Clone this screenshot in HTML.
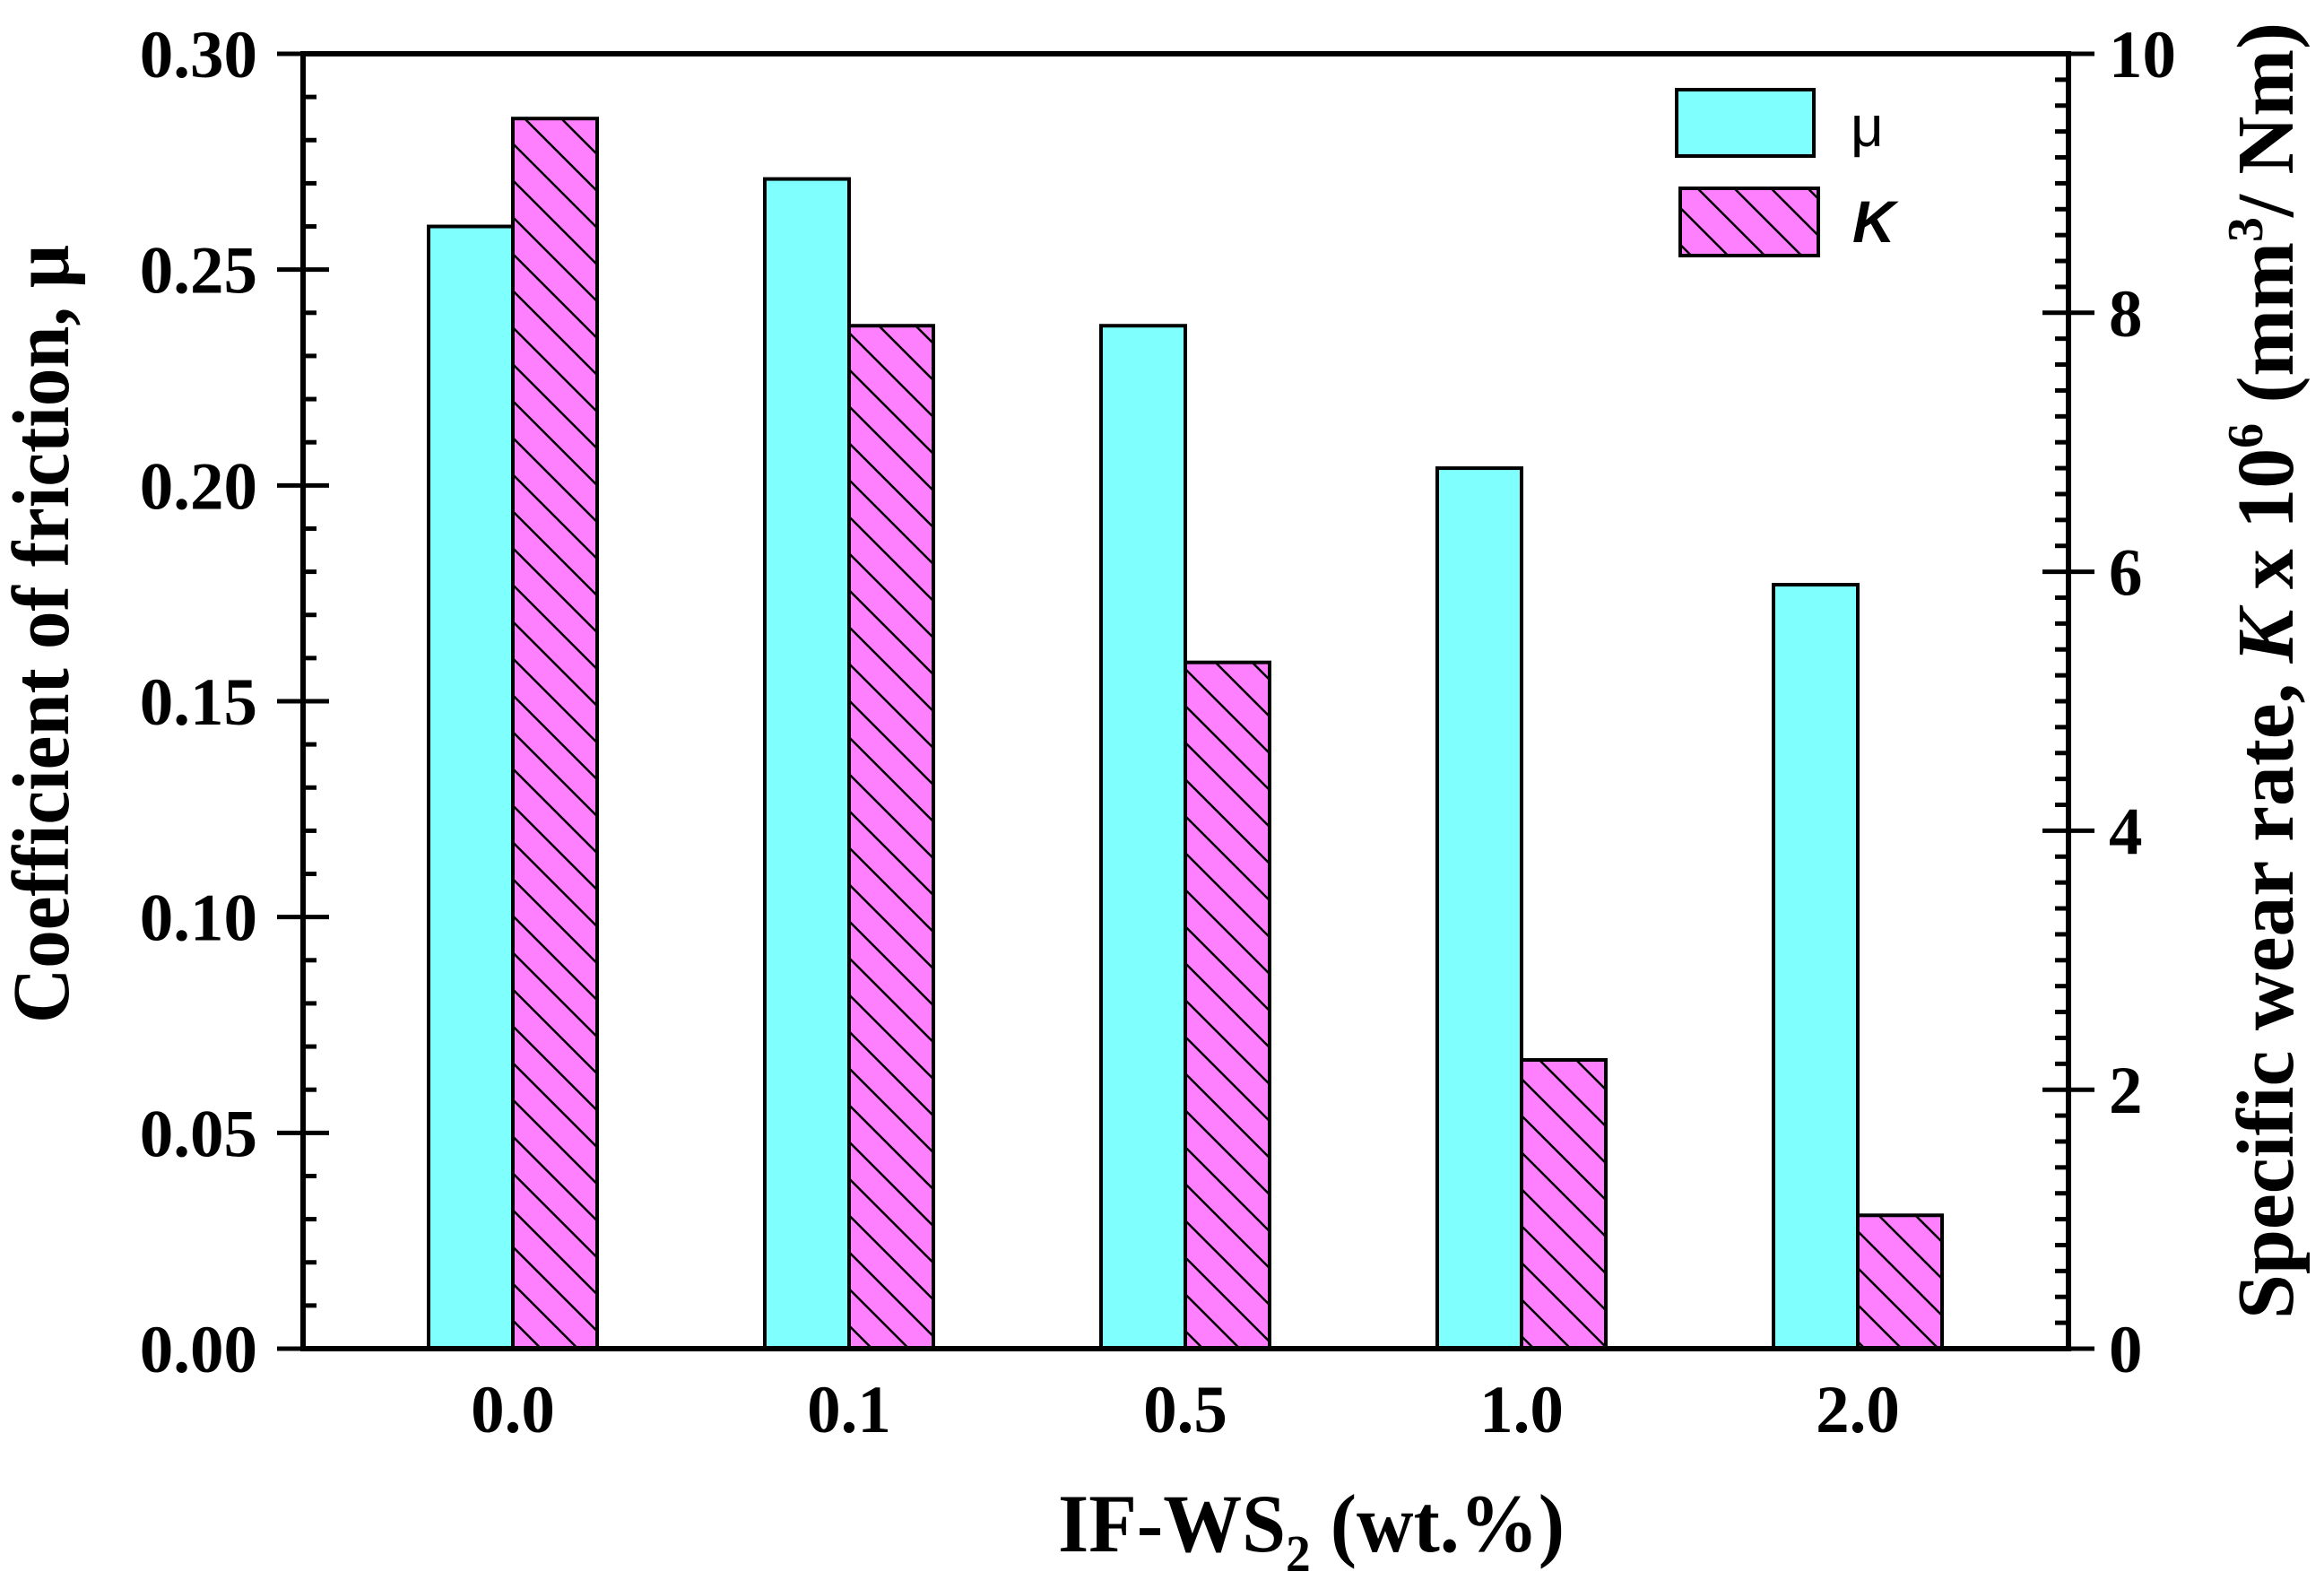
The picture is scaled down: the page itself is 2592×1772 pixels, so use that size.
<!DOCTYPE html>
<html><head><meta charset="utf-8"><style>
html,body{margin:0;padding:0;background:#fff}
svg{display:block}
text{font-family:"Liberation Serif",serif;font-weight:bold;fill:#000}
</style></head><body>
<svg id="chart" width="2592" height="1772" viewBox="0 0 2592 1772">
<defs>
<pattern id="hatch" patternUnits="userSpaceOnUse" width="29" height="29" patternTransform="rotate(-45)">
<rect width="29" height="29" fill="#FF80FF"/>
<line x1="0" y1="0" x2="0" y2="29" stroke="#000" stroke-width="5"/>
</pattern>
</defs>
<g id="bars"></g>
<g id="axes"></g>
<g id="legend">
<rect x="1870" y="100" width="153" height="74" fill="#80FFFF" stroke="#000" stroke-width="4"/>
<text x="2064" y="163" style="font-family:'Liberation Sans',sans-serif;font-weight:normal;font-size:64px">μ</text>
<rect x="1874" y="210" width="154" height="75" fill="url(#hatch)" stroke="#000" stroke-width="4"/>
<text x="2066" y="270" style="font-family:'Liberation Sans',sans-serif;font-style:italic;font-size:66px">K</text>
</g>
<text x="1180" y="1730" font-size="92" textLength="565" lengthAdjust="spacingAndGlyphs">IF-WS<tspan font-size="58" dy="22">2</tspan><tspan dy="-22"> (wt.%)</tspan></text>
<text transform="translate(76,707) rotate(-90)" text-anchor="middle" font-size="90" textLength="868" lengthAdjust="spacingAndGlyphs">Coefficient of friction, μ</text>
<text transform="translate(2557,748) rotate(-90)" text-anchor="middle" font-size="90" textLength="1446" lengthAdjust="spacingAndGlyphs">Specific wear rate, <tspan font-style="italic">K</tspan> x 10<tspan font-size="56" dy="-34">6</tspan><tspan dy="34"> (mm</tspan><tspan font-size="56" dy="-34">3</tspan><tspan dy="34">/ Nm)</tspan></text>
</svg>
<script>
const categories = ["0.0","0.1","0.5","1.0","2.0"];
const muValues = [0.260, 0.271, 0.237, 0.204, 0.177];
const kValues = [9.50, 7.90, 5.30, 2.23, 1.03];
const leftTicks = [0, 0.05, 0.10, 0.15, 0.20, 0.25, 0.30];
const leftTickLabels = ["0.00","0.05","0.10","0.15","0.20","0.25","0.30"];
const rightTicks = [0, 2, 4, 6, 8, 10];
const rightTickLabels = ["0","2","4","6","8","10"];

const NS = "http://www.w3.org/2000/svg";
const L = 338, R = 2307, T = 60, B = 1504;
const yMu = v => B - v / 0.30 * (B - T);
const yK = v => B - v / 10 * (B - T);
const xC = i => L + 234 + i * 375;
const BW = 94;
function mk(tag, attrs, parent) {
  const e = document.createElementNS(NS, tag);
  for (const k in attrs) e.setAttribute(k, attrs[k]);
  parent.appendChild(e);
  return e;
}
const bars = document.getElementById('bars');
const axes = document.getElementById('axes');
categories.forEach((c, i) => {
  const y1 = yMu(muValues[i]);
  const r1 = mk('rect', {x: xC(i) - BW, y: y1, width: BW, height: B - y1, fill: '#80FFFF', stroke: '#000', 'stroke-width': 4}, bars);
  
  
  const y2 = yK(kValues[i]);
  const r2 = mk('rect', {x: xC(i), y: y2, width: BW, height: B - y2, fill: 'url(#hatch)', stroke: '#000', 'stroke-width': 4}, bars);
  
  
  const t = mk('text', {x: xC(i), y: 1597, 'text-anchor': 'middle', 'font-size': 75}, axes);
  t.textContent = c;
  
  
});
// frame
const fr = mk('rect', {x: L, y: T, width: R - L, height: B - T, fill: 'none', stroke: '#000', 'stroke-width': 6}, axes);


// left ticks
for (let v = 0; v <= 30; v++) {
  const y = yMu(v / 100);
  const major = v % 5 === 0;
  const ln = mk('line', {x1: major ? L - 29 : L, x2: L + (major ? 29 : 15), y1: y, y2: y, stroke: '#000', 'stroke-width': 5}, axes);
  
  
}
leftTicks.forEach((v, i) => {
  const t = mk('text', {x: 287, y: yMu(v) + 26, 'text-anchor': 'end', 'font-size': 75}, axes);
  t.textContent = leftTickLabels[i];
  
  
});
// right ticks
for (let v = 0; v <= 50; v++) {
  const y = yK(v / 5);
  const major = v % 10 === 0;
  const ln = mk('line', {x1: R - (major ? 29 : 15), x2: major ? R + 29 : R, y1: y, y2: y, stroke: '#000', 'stroke-width': 5}, axes);
  
  
}
rightTicks.forEach((v, i) => {
  const t = mk('text', {x: 2352, y: yK(v) + 26, 'text-anchor': 'start', 'font-size': 75}, axes);
  t.textContent = rightTickLabels[i];
  
  
});
</script>
</body></html>
